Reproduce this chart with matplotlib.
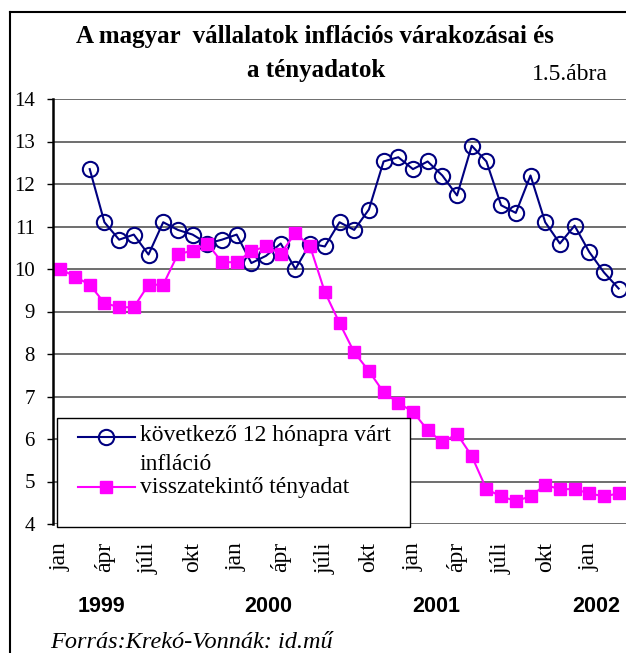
import numpy as np
import matplotlib.pyplot as plt
from matplotlib.lines import Line2D
from matplotlib.patches import Rectangle

# havi adatok 1999 jan - 2002 márc
honapok = np.arange(39)
varakozas = [np.nan, np.nan,
             12.35, 11.1, 10.69, 10.81, 10.34, 11.1, 10.92, 10.81, 10.6, 10.69,
             10.81, 10.14, 10.31, 10.6, 10.0, 10.6, 10.53, 11.1, 10.92, 11.4,
             12.53, 12.63, 12.35, 12.53, 12.2, 11.73, 12.9, 12.53, 11.5, 11.32,
             12.2, 11.1, 10.6, 11.02, 10.4, 9.92, 9.54]
tenyadat = [10.0, 9.82, 9.63, 9.2, 9.1, 9.1, 9.63, 9.63, 10.35, 10.43, 10.6, 10.16,
            10.16, 10.42, 10.53, 10.36, 10.85, 10.53, 9.46, 8.73, 8.04, 7.6,
            7.1, 6.85, 6.64, 6.21, 5.92, 6.12, 5.6, 4.82, 4.65, 4.54,
            4.65, 4.92, 4.82, 4.82, 4.72, 4.65, 4.72]
tick_honap = ['jan', 'ápr', 'júli', 'okt'] * 3 + ['jan']
evek = ['1999', '2000', '2001', '2002']
ev_x = [101, 268, 436, 596]

W, H = 626, 653
kek = '#000080'
rozsa = '#ff00ff'
serif = 'Liberation Serif'


def fx(px):
    return px / W


def fy(py):
    return 1 - py / H


fig = plt.figure(figsize=(W / 100, H / 100), dpi=100)
ax = fig.add_axes([fx(53), fy(524), 1 - fx(53), (524 - 99) / H])

ax.plot(honapok, varakozas, color=kek, lw=1.5, marker='o', ms=11,
        mfc='none', mec=kek, mew=1.5)
ax.plot(honapok, tenyadat, color=rozsa, lw=1.5, marker='s', ms=8.5,
        mfc=rozsa, mec=rozsa)

ax.set_xlim(-0.5, 38.5)
ax.set_ylim(4, 14)
ax.set_yticks(range(4, 15))
ax.set_xticks(range(0, 39, 3))
ax.set_xticklabels(tick_honap, rotation=90, va='top', ha='center',
                   family=serif, fontsize=17)
ax.tick_params(axis='x', length=0, pad=13)
ax.tick_params(axis='y', length=4, width=1, pad=9, labelsize=15)
for t in ax.get_yticklabels():
    t.set_family(serif)
ax.grid(axis='y', color='#555555', lw=1.2)
for s in ['top', 'right', 'bottom']:
    ax.spines[s].set_visible(False)
ax.spines['left'].set_linewidth(1.8)
ax.set_axisbelow(True)

# jelmagyarázat
fig.add_artist(Rectangle((fx(57), fy(527)), fx(410) - fx(57), fy(418) - fy(527),
                         transform=fig.transFigure, facecolor='white',
                         edgecolor='black', lw=1, zorder=5))
fig.add_artist(Line2D([fx(78), fx(106), fx(135)], [fy(437)] * 3, color=kek, lw=1.5,
                      marker='o', ms=11, mfc='none', mec=kek, mew=1.5, markevery=[1],
                      transform=fig.transFigure, zorder=6))
fig.add_artist(Line2D([fx(78), fx(106), fx(135)], [fy(487)] * 3, color=rozsa, lw=1.5,
                      marker='s', ms=8.5, mfc=rozsa, mec=rozsa, markevery=[1],
                      transform=fig.transFigure, zorder=6))
for txt, y in [('következő 12 hónapra várt', 436), ('infláció', 465),
               ('visszatekintő tényadat', 487)]:
    fig.text(fx(140), fy(y), txt, ha='left', va='center', family=serif,
             fontsize=17, zorder=6)

fig.text(fx(315), fy(37), 'A magyar  vállalatok inflációs várakozásai és',
         ha='center', va='center', family=serif, weight='bold', fontsize=18)
fig.text(fx(316), fy(70), 'a tényadatok',
         ha='center', va='center', family=serif, weight='bold', fontsize=18)
fig.text(fx(570), fy(75), '1.5.ábra', ha='center', va='center',
         family=serif, fontsize=17)

for e, x in zip(evek, ev_x):
    fig.text(fx(x), fy(606), e, ha='center', va='center',
             family='Liberation Sans', weight='bold', fontsize=15.5)

fig.text(fx(50), fy(642), 'Forrás:Krekó-Vonnák: id.mű', ha='left', va='center',
         family=serif, style='italic', fontsize=17.5)

# keret
fig.add_artist(Line2D([fx(10), fx(10)], [0, fy(12)], color='black', lw=1.5,
                      transform=fig.transFigure))
fig.add_artist(Line2D([fx(10), 1], [fy(12), fy(12)], color='black', lw=1.5,
                      transform=fig.transFigure))

fig.savefig('out.png', dpi=100)
